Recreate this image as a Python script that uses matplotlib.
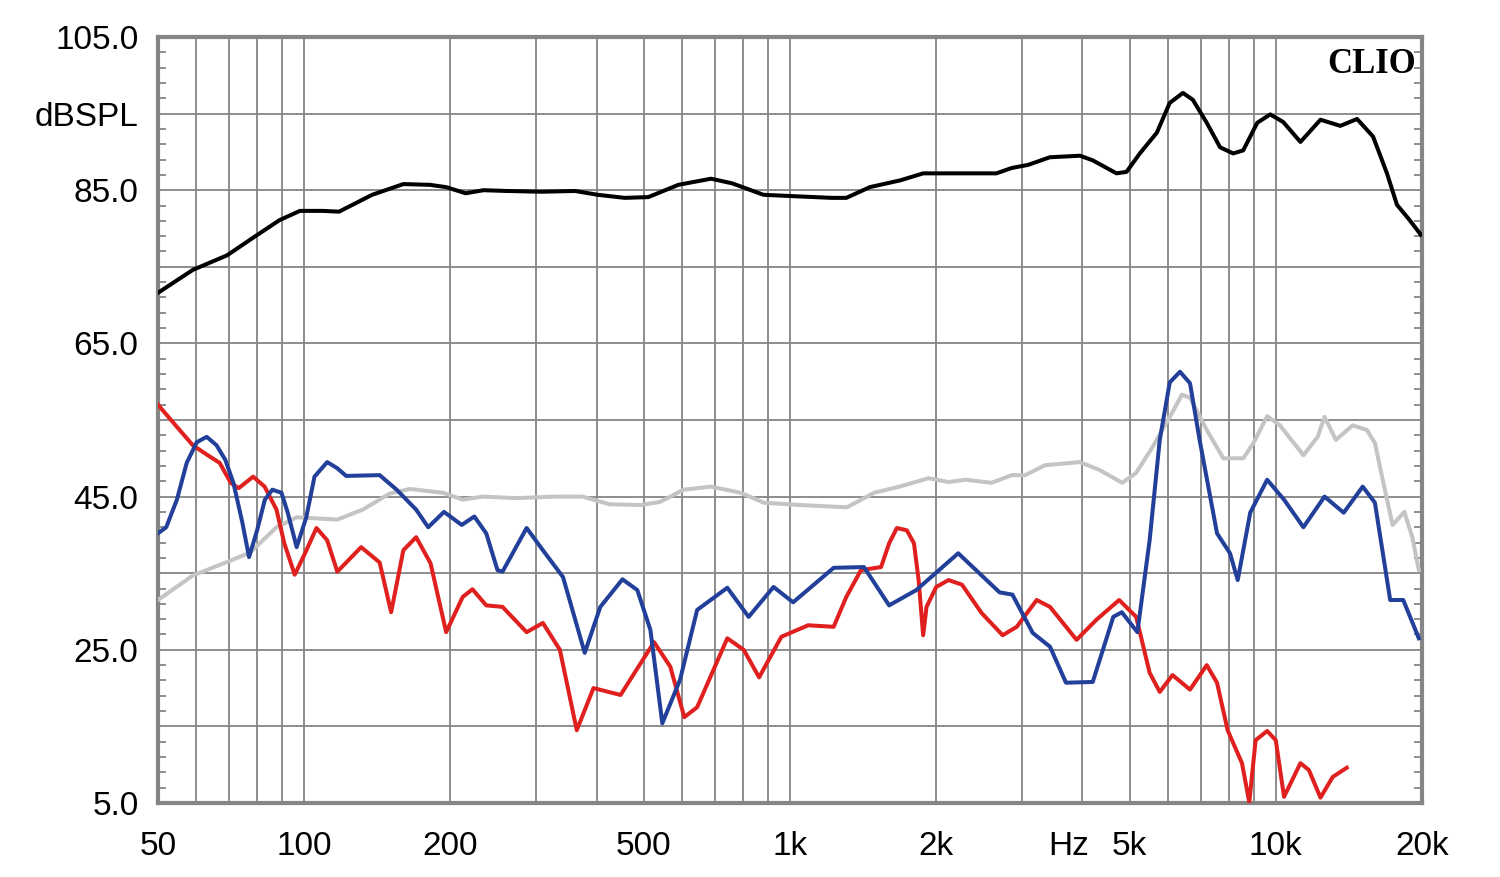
import numpy as np
import matplotlib
matplotlib.use("Agg")
import matplotlib.pyplot as plt
from matplotlib.ticker import FixedLocator, NullFormatter
from matplotlib.transforms import blended_transform_factory, offset_copy

plt.rcParams["font.family"] = ["Liberation Sans", "DejaVu Sans"]

# ---------------------------------------------------------------
# Data (Hz, dB SPL)
# ---------------------------------------------------------------
black_f = [50, 59, 69.4, 78.5, 89, 98, 109, 118, 138, 160, 181.5, 196, 215,
           234, 261, 308, 361, 402, 457, 511, 589, 688, 760, 882, 1035, 1218,
           1306, 1460, 1690, 1880, 2300, 2660, 2860, 3090, 3427, 3953, 4200,
           4700, 4930, 5250, 5690, 6050, 6440, 6750, 7210, 7680, 8170, 8570,
           9160, 9740, 10360, 11240, 12360, 13580, 14700, 15860, 16940, 17760,
           18860, 19880]
black_db = [71.6, 74.6, 76.5, 78.8, 81.1, 82.3, 82.3, 82.2, 84.4, 85.8, 85.7,
            85.4, 84.6, 85.0, 84.9, 84.8, 84.9, 84.4, 84.0, 84.1, 85.7, 86.5,
            85.9, 84.4, 84.2, 84.0, 84.0, 85.4, 86.3, 87.2, 87.2, 87.2, 87.9,
            88.3, 89.3, 89.5, 88.9, 87.2, 87.4, 89.8, 92.5, 96.4, 97.7, 96.8,
            93.8, 90.6, 89.8, 90.2, 93.8, 94.9, 93.9, 91.3, 94.2, 93.4, 94.3,
            92.0, 87.2, 83.1, 81.1, 79.2]

gray_f = [50, 59, 69, 77.4, 87.7, 96.5, 117, 132, 150, 165, 193, 212, 233,
          273, 330, 374, 425, 492, 540, 604, 687, 792, 884, 1050, 1310, 1490,
          1680, 1930, 2120, 2300, 2600, 2860, 3050, 3350, 3950, 4330, 4830,
          5160, 5580, 6050, 6410, 6660, 7210, 7800, 8570, 9000, 9600, 10200,
          11400, 12200, 12600, 13300, 14400, 15400, 16000, 16600, 17400,
          18400, 19100, 19700]
gray_db = [31.5, 34.7, 36.4, 37.7, 41.0, 42.3, 42.0, 43.3, 45.4, 46.0, 45.5,
           44.6, 45.0, 44.8, 45.0, 45.0, 44.0, 43.9, 44.3, 45.9, 46.3, 45.5,
           44.2, 43.9, 43.6, 45.5, 46.3, 47.4, 46.9, 47.2, 46.8, 47.8, 47.8,
           49.1, 49.5, 48.5, 46.8, 48.1, 51.5, 55.4, 58.3, 57.9, 53.7, 50.0,
           50.0, 52.0, 55.5, 54.3, 50.4, 52.8, 55.4, 52.4, 54.3, 53.7, 52.0,
           47.2, 41.3, 43.0, 39.7, 35.4]

blue_f = [50, 52, 54.7, 57.3, 60.1, 63, 66, 68.8, 71.5, 74.6, 77, 80, 83, 86,
          89.8, 92.5, 96.5, 101, 105, 111.5, 117, 122, 143, 155, 170, 180,
          194, 211, 224, 237, 250, 256, 287, 310, 341, 378, 407, 452, 485,
          516, 546, 594, 644, 743, 822, 925, 1015, 1230, 1420, 1600, 1820,
          2220, 2700, 2870, 3160, 3430, 3700, 4200, 4630, 4820, 5190, 5500,
          5770, 6050, 6350, 6660, 6970, 7570, 8050, 8350, 8860, 9600, 10400,
          11400, 12600, 13800, 15100, 16000, 17200, 18300, 19700]
blue_db = [40.2, 41.0, 44.6, 49.4, 52.1, 52.8, 51.7, 49.8, 46.8, 41.6, 37.1,
           40.6, 44.6, 45.9, 45.5, 42.9, 38.4, 42.3, 47.6, 49.5, 48.7, 47.7,
           47.8, 45.9, 43.3, 41.0, 43.0, 41.3, 42.4, 40.2, 35.4, 35.2, 40.9,
           38.0, 34.5, 24.6, 30.6, 34.2, 32.8, 27.6, 15.4, 21.1, 30.2, 33.1,
           29.3, 33.2, 31.2, 35.7, 35.8, 30.8, 32.8, 37.6, 32.5, 32.2, 27.2,
           25.4, 20.7, 20.8, 29.3, 29.9, 27.3, 39.3, 52.4, 59.9, 61.3, 59.8,
           52.4, 40.2, 37.6, 34.1, 42.9, 47.2, 44.6, 41.0, 45.0, 42.9, 46.3,
           44.2, 31.5, 31.5, 26.5]

red_f = [50, 54.7, 59, 63.3, 67, 70.6, 73.3, 78.5, 82.9, 87.7, 91, 95.6,
         100.4, 106, 111.5, 117, 131, 143, 151, 160, 170, 182, 196, 212, 222,
         237, 256, 287, 310, 336, 364, 394, 448, 525, 567, 606, 644, 743, 803,
         864, 960, 1090, 1230, 1306, 1400, 1540, 1600, 1660, 1740, 1800, 1840,
         1880, 1910, 2000, 2120, 2260, 2480, 2740, 2930, 3220, 3430, 3890,
         4270, 4760, 5160, 5500, 5770, 6130, 6660, 7210, 7570, 7960, 8520,
         8820, 9090, 9600, 10000, 10400, 11240, 11700, 12360, 13100, 14000]
red_db = [57.0, 54.1, 51.7, 50.4, 49.4, 46.8, 46.1, 47.6, 46.3, 43.3, 38.9,
          34.8, 37.6, 40.9, 39.3, 35.2, 38.4, 36.4, 29.9, 38.0, 39.7, 36.3,
          27.3, 31.9, 32.9, 30.8, 30.6, 27.3, 28.5, 25.0, 14.5, 20.0, 19.1,
          26.0, 22.8, 16.2, 17.5, 26.5, 25.0, 21.4, 26.7, 28.2, 28.0, 31.9,
          35.4, 35.8, 38.9, 40.9, 40.6, 38.9, 34.1, 26.9, 30.6, 33.2, 34.1,
          33.5, 29.8, 26.9, 28.0, 31.5, 30.6, 26.3, 28.9, 31.5, 29.3, 22.0,
          19.5, 21.7, 19.8, 23.0, 20.7, 14.5, 10.2, 5.1, 13.2, 14.4, 13.2,
          5.8, 10.2, 9.3, 5.7, 8.4, 9.6]

x_ticks = [50, 100, 200, 500, 1000, 2000, 5000, 10000, 20000]
x_labels = ["50", "100", "200", "500", "1k", "2k", "5k", "10k", "20k"]
y_ticks = [5, 15, 25, 35, 45, 55, 65, 75, 85, 95, 105]
y_labels = ["5.0", "", "25.0", "", "45.0", "", "65.0", "", "85.0", "dBSPL", "105.0"]

# vertical grid: 1-2-...-9 per decade
grid_f = [m * d for d in (10, 100, 1000, 10000) for m in range(1, 10)]
grid_f = [g for g in grid_f if 50 < g <= 20000]

fig = plt.figure(figsize=(15, 8.77), dpi=100)
ax = fig.add_axes([0.1053, 0.0844, 0.8427, 0.8734])
ax.set_xscale("log")
ax.set_xlim(50, 20000)
ax.set_ylim(5, 105)

grid_col = "#858585"
for g in grid_f:
    ax.axvline(g, color=grid_col, lw=1.3, zorder=1)
for yv in y_ticks:
    ax.axhline(yv, color=grid_col, lw=1.3, zorder=1)

lw = 2.9
ax.plot(gray_f, gray_db, color="#c4c4c4", lw=lw, zorder=3)
ax.plot(red_f, red_db, color="#e0201e", lw=lw, zorder=4)
ax.plot(blue_f, blue_db, color="#22409a", lw=lw, zorder=5)
ax.plot(black_f, black_db, color="black", lw=lw, zorder=6)

ax.xaxis.set_major_locator(FixedLocator(x_ticks))
ax.xaxis.set_minor_locator(FixedLocator([]))
ax.set_xticklabels(x_labels)
ax.xaxis.set_minor_formatter(NullFormatter())
ax.set_yticks(y_ticks)
ax.set_yticklabels(y_labels)
ax.yaxis.set_minor_locator(FixedLocator(np.arange(5, 106, 2)))

x_pad = 20
ax.tick_params(axis="both", which="major", length=0, labelsize=24)
ax.tick_params(axis="x", pad=x_pad)
ax.tick_params(axis="y", pad=14)
ax.tick_params(axis="y", which="minor", direction="in", length=6, width=1.3,
               color=grid_col, left=True, right=True)

for s in ax.spines.values():
    s.set_color(grid_col)
    s.set_linewidth(3)

# "Hz" sits in the tick-label row, same offset as the tick labels
trans = blended_transform_factory(ax.transData, ax.transAxes)
hz_trans = offset_copy(trans, fig=fig, x=0, y=-x_pad, units="points")
ax.text(3750, 0, "Hz", transform=hz_trans, ha="center", va="top", fontsize=24)
ax.text(0.995, 0.985, "CLIO", transform=ax.transAxes, ha="right", va="top",
        fontsize=25, fontweight="bold", family="Liberation Serif")

fig.savefig("out.png", dpi=100)
